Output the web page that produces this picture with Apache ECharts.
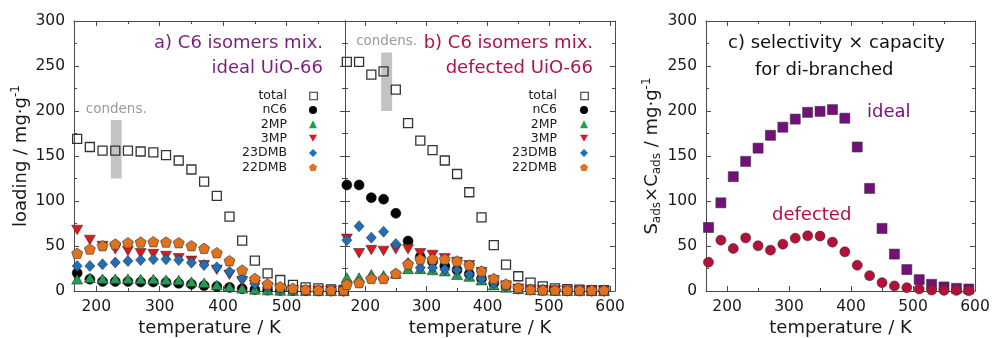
<!DOCTYPE html>
<html><head><meta charset="utf-8">
<script src="https://cdn.jsdelivr.net/npm/echarts@6/dist/echarts.min.js"></script>
<style>html,body{margin:0;padding:0;background:#fff}#c{width:993px;height:338px}</style>
</head><body><div id="c"></div>
<script>
// ---------- data ----------
const temps = [170,190,210,230,250,270,290,310,330,350,370,390,410,430,450,470,490,510,530,550,570,590];
const speciesNames = ['total','nC6','2MP','3MP','23DMB','22DMB'];
// a) ideal UiO-66
const aTotal = [169,160,156,156,156,155,154,151,145,135,121.5,105.6,82.6,56,33.7,19.6,12.2,6.7,4.1,3,1.8,1.1];
const aNC6   = [20,13,10.5,10.5,10.5,10,10,9.5,8.5,7.5,6,5,4,2.5,1.5,1,0.6,0.4,0.3,0.2,0.2,0.1];
const a2MP   = [13,14.8,13.7,13.7,13.7,13.3,13.3,12.6,12.2,10.4,9.3,6.7,4.8,3,1.8,1,0.6,0.4,0.3,0.2,0.1,0.1];
const a3MP   = [67.8,56.7,50,46.3,44.4,41.9,41,38.9,36.3,33.5,28.6,23.5,18,11,6.5,3.5,2,1,0.5,0.3,0.2,0.1];
const a23DMB = [27.8,27.8,29.6,31.8,33.3,34.4,35.2,35.2,34.4,31.5,28.9,26.3,21.5,14,7.8,4.1,2.2,1,0.5,0.3,0.2,0.1];
const a22DMB = [41.9,46.7,50.4,52.2,53.7,54.4,54.8,54.4,53.7,50.4,47.4,42.6,33.7,23.3,14,7.8,4.8,3,1.8,1.1,1.1,1.1];
// b) defected UiO-66
const bTotal = [254.6,254.6,240.5,244,223.8,186.6,167,156.5,145,130,109.7,81.8,51,29.4,16.4,9.3,5.2,3,2,1.5,1,1];
const bNC6   = [117.8,117.8,103.7,102,86.3,55.5,38,32.6,27.8,23.3,18.9,13.7,8.5,4.8,2.6,1.5,1,0.6,0.4,0.3,0.2,0.2];
const b2MP   = [15,15,18.5,17.5,19.5,24.5,24.5,23.3,22,18,16,12,6.5,4,2.3,1.2,0.7,0.4,0.3,0.2,0.1,0.1];
const b3MP   = [58,41.9,45.5,44.5,46.3,46.3,41.9,40,36.3,32.3,28.6,21,12,6,2.6,1.5,1,0.5,0.3,0.2,0.1,0.1];
const b23DMB = [56.5,72,59.3,65.9,52.2,31,25.9,25.9,24,23.3,18.5,14,8.5,4.8,2.5,1.5,1,0.5,0.3,0.2,0.1,0.1];
const b22DMB = [7.4,9.3,14,14,19.6,30,35.5,35.5,35.5,33.3,28.9,22.2,14,7.8,3.7,1.8,1.2,1,1,1,1,1];
// c) selectivity x capacity for di-branched
const cIdeal    = [70.6,98,127,144,158.7,173,182,191,198.5,199.6,201.5,192,160,114,69.5,41,23.8,12.6,7.4,4.5,3,2.2];
const cDefected = [32,56.5,47.2,59,50.2,45.4,52,58.7,61.3,61,54.3,43.5,28.6,17,9.3,5.6,3.7,2.2,1,0.7,0.7,0.3];
// condensation bands [Tmin, Tmax, loadMin, loadMax]
const condensA = [223,240,125,190];
const condensB = [226,244,200,265];
// tick values
const xLabelsA  = [200,300,400,500];
const xLabelsBC = [200,300,400,500,600];
const xMinor    = [250,350,450,550];

// ---------- styling ----------
const FONT = '"DejaVu Sans", sans-serif';
const AXC = '#4a4a4a';
const TXT = '#1a1a1a';
const PENT = 'path://M0,-1 L0.951,-0.309 L0.588,0.809 L-0.588,0.809 L-0.951,-0.309 Z';
const TRI_DOWN = 'path://M-1,-0.866 L1,-0.866 L0,0.866 Z';
const grids = [
  {left:74, top:21, width:271, height:270, outerBoundsMode:'none', containLabel:false},
  {left:345, top:21, width:270, height:270, outerBoundsMode:'none', containLabel:false},
  {left:706, top:21, width:269, height:270, outerBoundsMode:'none', containLabel:false}
];
const xr = [[165,592],[167,608],[166,600]];
const xMaj = [xLabelsA, xLabelsBC, xLabelsBC];

const sty = {
  'total': {symbol:'rect', size:9, item:{color:'rgba(255,255,255,0)', borderColor:'#333', borderWidth:1.3, opacity:1}, leg:{color:'rgba(255,255,255,0)', borderColor:'#333', borderWidth:1.1}},
  'nC6':   {symbol:'circle', size:10, item:{color:'#000', borderColor:'#000', borderWidth:0.5, opacity:1}, leg:{color:'#000', borderWidth:0}},
  '2MP':   {symbol:'triangle', size:[11,9.5], item:{color:'#1e9e4e', borderColor:'#333', borderWidth:0.6, opacity:1}, leg:{color:'#1e9e4e', borderWidth:0}},
  '3MP':   {symbol:TRI_DOWN, size:[11,9.5], item:{color:'#e3151c', borderColor:'#333', borderWidth:0.6, opacity:1}, leg:{color:'#e3151c', borderWidth:0}},
  '23DMB': {symbol:'diamond', size:[10,11], item:{color:'#1f6fb7', borderColor:'#333', borderWidth:0.6, opacity:1}, leg:{color:'#1f6fb7', borderWidth:0}},
  '22DMB': {symbol:PENT, size:[11,10.5], item:{color:'#e2711d', borderColor:'#333', borderWidth:0.6, opacity:1}, leg:{color:'#e2711d', borderWidth:0}}
};

function pairs(vals){ return temps.map((t,i)=>[t, vals[i]]); }

function xAxesFor(g){
  const [min,max] = xr[g];
  const base = {type:'value', gridIndex:g, min:min, max:max, splitLine:{show:false}};
  return [
    Object.assign({}, base, {position:'bottom',
      axisLine:{show:true,onZero:false,lineStyle:{color:AXC,width:1}},
      axisTick:{show:true,inside:true,length:5,customValues:xMaj[g],lineStyle:{color:AXC}},
      axisLabel:{show:true,customValues:xMaj[g],margin:7.5,fontSize:15.5,fontFamily:FONT,color:TXT},
      name:'temperature / K', nameLocation:'middle', nameGap:28,
      nameTextStyle:{fontSize:18,fontFamily:FONT,color:TXT}}),
    Object.assign({}, base, {position:'bottom',
      axisLine:{show:false,onZero:false},
      axisTick:{show:true,inside:true,length:3,customValues:xMinor,lineStyle:{color:AXC}},
      axisLabel:{show:false}}),
    Object.assign({}, base, {position:'top',
      axisLine:{show:true,onZero:false,lineStyle:{color:AXC,width:1}},
      axisTick:{show:true,inside:true,length:5,customValues:xMaj[g],lineStyle:{color:AXC}},
      axisLabel:{show:false}}),
    Object.assign({}, base, {position:'top',
      axisLine:{show:false,onZero:false},
      axisTick:{show:true,inside:true,length:3,customValues:xMinor,lineStyle:{color:AXC}},
      axisLabel:{show:false}})
  ];
}
const richY = {
  t:{fontSize:18,fontFamily:FONT,color:TXT,lineHeight:22},
  s:{fontSize:12,fontFamily:FONT,color:TXT,lineHeight:12,verticalAlign:'top'},
  b:{fontSize:12,fontFamily:FONT,color:TXT,lineHeight:12,verticalAlign:'bottom'}
};
function yAxesFor(g){
  const base = {type:'value', gridIndex:g, min:0, max:300, interval:50, splitLine:{show:false},
    minorTick:{show:true,splitNumber:2,length:3,lineStyle:{color:AXC}},
    axisTick:{show:true,inside:true,length:5,lineStyle:{color:AXC}},
    axisLine:{show:true,onZero:false,lineStyle:{color:AXC,width:1}}};
  const left = Object.assign({}, base, {position:'left',
    axisLabel:{show:g!==1,margin:9,fontSize:15.5,fontFamily:FONT,color:TXT}});
  if (g===0) Object.assign(left, {name:'{t|loading / mg·g}{s|-1}', nameLocation:'middle', nameGap:42, nameTextStyle:{rich:richY}});
  if (g===2) Object.assign(left, {name:'{t|S}{b|ads}{t|×C}{b|ads}{t| / mg·g}{s|-1}', nameLocation:'middle', nameGap:43, nameTextStyle:{rich:richY}});
  const right = Object.assign({}, base, {position:'right', axisLabel:{show:false}});
  return [left, right];
}

const xAxis = [].concat(xAxesFor(0), xAxesFor(1), xAxesFor(2));
const yAxis = [].concat(yAxesFor(0), yAxesFor(1), yAxesFor(2));

function band(c){
  return {silent:true, itemStyle:{color:'#c3c3c3'},
    label:{show:true, position:'top', distance:4, formatter:'condens.', color:'#9a9a9a', fontSize:13.5, fontFamily:FONT},
    data:[[{xAxis:c[0], yAxis:c[2]},{xAxis:c[1], yAxis:c[3]}]]};
}

const series = [];
const panelData = [[aTotal,aNC6,a2MP,a3MP,a23DMB,a22DMB],[bTotal,bNC6,b2MP,b3MP,b23DMB,b22DMB]];
panelData.forEach((arrs,g)=>{
  arrs.forEach((vals,i)=>{
    const nm = speciesNames[i], s = sty[nm];
    const ser = {type:'scatter', name:nm, xAxisIndex:4*g, yAxisIndex:2*g, data:pairs(vals),
      symbol:s.symbol, symbolSize:s.size, itemStyle:s.item, clip:false, z:2+i,
      emphasis:{disabled:true}};
    if (i===0) ser.markArea = band(g===0?condensA:condensB);
    series.push(ser);
  });
});
series.push({type:'scatter', name:'ideal', xAxisIndex:8, yAxisIndex:4, data:pairs(cIdeal), symbol:'rect', symbolSize:10,
  itemStyle:{color:'#74107a', borderColor:'#333', borderWidth:0.6, opacity:1}, clip:false, z:3, emphasis:{disabled:true}});
series.push({type:'scatter', name:'defected', xAxisIndex:8, yAxisIndex:4, data:pairs(cDefected), symbol:'circle', symbolSize:10,
  itemStyle:{color:'#b5103a', borderColor:'#333', borderWidth:0.6, opacity:1}, clip:false, z:4, emphasis:{disabled:true}});

// legends: icon-only legend components (one per entry), names as text on their left
const legendRows = [95.5,109.9,124.3,138.7,153.1,167.5];
const legendIconX = [313,584];
const legendTextRight = [287,557];
const legend = [];
const IW = 8;
[0,1].forEach(p=>{
  speciesNames.forEach((nm,i)=>{
    const iw = nm==='total'?7.5:IW;
    legend.push({show:true, data:[nm], orient:'vertical', align:'left', padding:0,
      left: legendIconX[p] - iw/2, top: legendRows[i] - iw/2,
      itemWidth: iw, itemHeight: iw, selectedMode:false,
      icon: sty[nm].symbol, itemStyle: sty[nm].leg, formatter: function(){ return ''; },
      textStyle:{fontSize:1, lineHeight:1}});
  });
});

function txt(x,y,text,color,align,size){
  return {type:'text', x:x, y:y, silent:true,
    style:{text:text, fill:color, font:(size||18)+'px "DejaVu Sans", sans-serif', align:align, verticalAlign:'middle'}};
}
const graphic = [
  txt(323,43,'a) C6 isomers mix.','#7a1f7c','right'),
  txt(323,68,'ideal UiO-66','#7a1f7c','right'),
  txt(593,43,'b) C6 isomers mix.','#b0124a','right'),
  txt(593,68,'defected UiO-66','#b0124a','right'),
  txt(728,43.5,'c) selectivity × capacity','#111','left'),
  txt(755,70,'for di-branched','#111','left'),
  txt(867,112,'ideal','#7a1280','left'),
  txt(772,215,'defected','#b3123a','left')
];
[0,1].forEach(p=>{
  speciesNames.forEach((nm,i)=>{
    graphic.push(txt(legendTextRight[p], legendRows[i], nm, TXT, 'right', 12.5));
  });
});

const chart = echarts.init(document.getElementById('c'), null, {renderer:'canvas'});
chart.setOption({
  animation:false,
  backgroundColor:'#fff',
  grid:grids, xAxis:xAxis, yAxis:yAxis, series:series, legend:legend, graphic:graphic
});
</script></body></html>
